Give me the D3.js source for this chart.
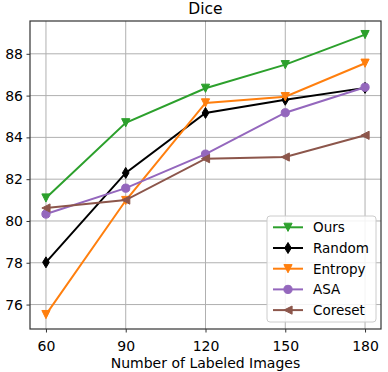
<!DOCTYPE html>
<html><head><meta charset="utf-8">
<script src="https://cdn.jsdelivr.net/npm/d3@7"></script>
<style>body{margin:0;background:#fff;} text{font-family:"DejaVu Sans",sans-serif;}</style>
</head><body>
<svg id="c" width="388" height="372"></svg>
<script>
const xValues = [60, 90, 120, 150, 180];
const seriesNames = ["Ours", "Random", "Entropy", "ASA", "Coreset"];
const ours    = [81.1, 84.7, 86.35, 87.48, 88.92];
const random  = [78.02, 82.3, 85.17, 85.8, 86.37];
const entropy = [75.52, 80.98, 85.65, 85.95, 87.55];
const asa     = [80.33, 81.57, 83.2, 85.18, 86.4];
const coreset = [80.62, 81.0, 82.98, 83.06, 84.1];
const colors  = ["#2ca02c", "#000000", "#ff7f0e", "#9467bd", "#8c564b"];
const markers = ["tridown", "dthin", "tridown", "circle", "trileft"];
const xTicks = [60, 90, 120, 150, 180];
const yTicks = [76, 78, 80, 82, 84, 86, 88];
const allSeries = [ours, random, entropy, asa, coreset];

const svg = d3.select("#c");
const L = 30, R = 381, T = 21, B = 329;
const x = d3.scaleLinear().domain([54, 186]).range([L, R]);
const y = d3.scaleLinear().domain([74.83, 89.57]).range([B, T]);

// grid
const g = svg.append("g");
g.selectAll(".gx").data(xTicks).enter().append("line")
  .attr("x1", d => x(d)).attr("x2", d => x(d)).attr("y1", T).attr("y2", B)
  .attr("stroke", "#b0b0b0").attr("stroke-width", 1);
g.selectAll(".gy").data(yTicks).enter().append("line")
  .attr("y1", d => y(d)).attr("y2", d => y(d)).attr("x1", L).attr("x2", R)
  .attr("stroke", "#b0b0b0").attr("stroke-width", 1);

// axes
const xAxis = d3.axisBottom(x).tickValues(xTicks).tickSize(3.5).tickPadding(9);
const yAxis = d3.axisLeft(y).tickValues(yTicks).tickSize(3.5).tickPadding(3.5);
const gx = svg.append("g").attr("transform", `translate(0,${B})`).call(xAxis);
const gy = svg.append("g").attr("transform", `translate(${L},0)`).call(yAxis);
[gx, gy].forEach(a => {
  a.select(".domain").remove();
  a.selectAll("text").attr("font-size", 14).attr("fill", "#000").attr("font-family", "DejaVu Sans");
  a.selectAll("line").attr("stroke", "#333");
});

function markerPath(type, s) {
  const p = d3.path();
  if (type === "tridown") {
    p.moveTo(-s, -s); p.lineTo(s, -s); p.lineTo(0, s); p.closePath();
  } else if (type === "trileft") {
    p.moveTo(-s, 0); p.lineTo(s, -s); p.lineTo(s, s); p.closePath();
  } else if (type === "dthin") {
    p.moveTo(0, -s * 1.41); p.lineTo(s * 0.85, 0); p.lineTo(0, s * 1.41); p.lineTo(-s * 0.85, 0); p.closePath();
  } else {
    p.arc(0, 0, s, 0, 2 * Math.PI);
  }
  return p.toString();
}

const line = d3.line().x((d, i) => x(xValues[i])).y(d => y(d));
const plot = svg.append("g");
allSeries.forEach((vals, k) => {
  plot.append("path").attr("d", line(vals)).attr("fill", "none")
    .attr("stroke", colors[k]).attr("stroke-width", 2);
  plot.selectAll(null).data(vals).enter().append("path")
    .attr("d", markerPath(markers[k], markers[k] === "dthin" ? 3.9 : 4.1))
    .attr("transform", (d, i) => `translate(${x(xValues[i])},${y(d)})`)
    .attr("fill", colors[k]).attr("stroke", colors[k]).attr("stroke-width", 1);
});

// frame
svg.append("rect").attr("x", L).attr("y", T).attr("width", R - L).attr("height", B - T)
  .attr("fill", "none").attr("stroke", "#333").attr("stroke-width", 1.2);

// title & labels
svg.append("text").attr("x", (L + R) / 2).attr("y", 14).attr("text-anchor", "middle")
  .attr("font-size", 15.5).text("Dice");
svg.append("text").attr("x", (L + R) / 2).attr("y", 368).attr("text-anchor", "middle")
  .attr("font-size", 14).text("Number of Labeled Images");

// legend
const lg = svg.append("g");
lg.append("rect").attr("x", 267).attr("y", 216).attr("width", 109).attr("height", 106)
  .attr("rx", 3).attr("fill", "#fff").attr("fill-opacity", 0.85).attr("stroke", "#ccc");
seriesNames.forEach((name, k) => {
  const yy = 227.3 + k * 20.7;
  lg.append("line").attr("x1", 273).attr("x2", 303).attr("y1", yy).attr("y2", yy)
    .attr("stroke", colors[k]).attr("stroke-width", 2);
  lg.append("path").attr("d", markerPath(markers[k], markers[k] === "dthin" ? 3.9 : 4.1))
    .attr("transform", `translate(288,${yy})`).attr("fill", colors[k])
    .attr("stroke", colors[k]).attr("stroke-width", 1);
  lg.append("text").attr("x", 313).attr("y", yy + 5).attr("font-size", 13.5).text(name);
});
</script>
</body></html>
